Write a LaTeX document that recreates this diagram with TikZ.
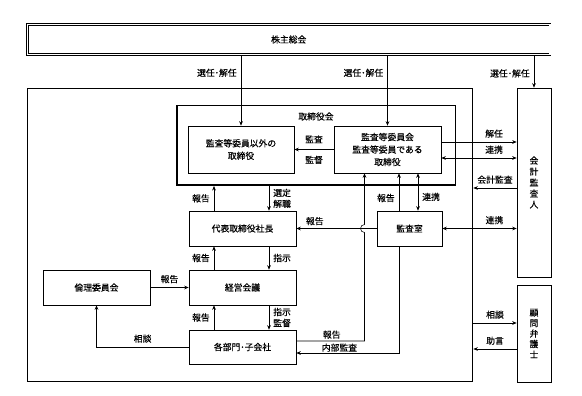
\documentclass[tikz,border=0pt]{standalone}
\usepackage{fontspec}
\setmainfont{Noto Sans CJK JP}[FakeBold=0.3]
\usetikzlibrary{arrows.meta}
\begin{document}
\begin{tikzpicture}[x=1pt,y=-1pt,>={Stealth[length=4.5pt,width=3.6pt]},line width=.55pt,
    font=\fontsize{8.8}{12.5}\selectfont,
    box/.style={draw,rectangle,align=center,inner sep=0pt},
    lab/.style={inner sep=4pt},
    tate/.style={font=\fontsize{8.8}{11}\selectfont}]
\useasboundingbox (0,0) rectangle (582,396);
% 株主総会と外枠
\node[box,double,double distance=1.1pt,line width=.8pt,minimum width=522.5,minimum height=30.5] (kabu) at (288.75,39.5) {株主総会};
\node[box,line width=1.2pt,minimum width=445.4,minimum height=292.2] (soshiki) at (250,235) {};
\node[box,line width=1.5pt,minimum width=278.5,minimum height=79.5] (tb) at (316,145.5) {};
\node at ([yshift=-11.5pt]tb.north) {取締役会};
% 箱
\node[box,minimum width=106,minimum height=47] (ina) at (241,149.5) {監査等委員以外の\\取締役};
\node[box,minimum width=107,minimum height=47] (kan) at (387.5,149.5) {監査等委員会\\監査等委員である\\取締役};
\node[box,minimum width=107,minimum height=35] (dai) at (242.5,228.5) {代表取締役社長};
\node[box,minimum width=107,minimum height=35] (kei) at (242.5,287.5) {経営会議};
\node[box,minimum width=107,minimum height=35] (rin) at (96.5,287.5) {倫理委員会};
\node[box,minimum width=107,minimum height=34] (kaku) at (242.5,347) {各部門･子会社};
\node[box,minimum width=65,minimum height=35] (kansa) at (409.5,228.5) {監査室};
\node[box,tate,minimum width=34,minimum height=189] (kaikei) at (534,182.5) {会\\計\\監\\査\\人};
\node[box,tate,font=\fontsize{8.8}{10.5}\selectfont,minimum width=34,minimum height=97] (komon) at (534,333.5) {顧\\問\\弁\\護\\士};
% 株主総会から
\draw[->] (kabu.south -| ina.north) -- node[lab,left,pos=.25]{選任･解任} (ina.north);
\draw[->] (kabu.south -| kan.north) -- node[lab,left,pos=.25]{選任･解任} (kan.north);
\draw[->] (kabu.south -| kaikei.north) -- node[lab,left,pos=.56]{選任･解任} (kaikei.north);
% 取締役会の中
\draw[->] (kan.west) -- node[lab,above=2pt]{監査} node[lab,below=2pt]{監督} (ina.east);
% 会計監査人との間
\coordinate (k1) at ([yshift=7.5pt]kan.east);
\coordinate (k2) at ([yshift=-8.5pt]kan.east);
\coordinate (k3) at ([yshift=-5.5pt]kaikei.west);
\draw[->] (k1) -- node[lab,above,pos=.7]{解任} (k1 -| kaikei.west);
\draw[<->] (k2) -- node[lab,above,pos=.7]{連携} (k2 -| kaikei.west);
\draw[->] (k3) -- node[lab,above]{会計監査} (k3 -| soshiki.east);
\draw[<->] (kansa.east) -- node[lab,above,pos=.7]{連携} (kansa.east -| kaikei.west);
% 監査室
\coordinate (s1) at ([xshift=-10.5pt]kansa.north);
\coordinate (s2) at ([xshift=8.5pt]kansa.north);
\draw[->] (s1) -- node[lab,left,pos=.34]{報告} (s1 |- kan.south);
\draw[<->] (s2) -- node[lab,right,pos=.37]{連携} (s2 |- kan.south);
\draw[->] (kansa.west) -- node[lab,above,pos=.77,inner sep=3pt]{報告} (dai.east);
\draw[->] ([xshift=-10.5pt]kansa.south) |- node[lab,above,pos=.79,inner sep=1pt]{内部監査} ([yshift=-6pt]kaku.east);
% 各部門から監査等委員会へ（跳び越し）
\coordinate (r) at ([xshift=-23pt]kan.south);
\coordinate (h) at (dai.east -| r);
\draw[->] ([yshift=6pt]kaku.east) -| node[lab,above,pos=.26,inner sep=2pt]{報告} ([yshift=-4pt]h) arc(90:270:4) -- (r);
% 社長から各部門まで
\foreach \u/\d/\t in {tb/dai/{選定\\解職},dai/kei/指示,kei/kaku/{指示\\監督}}{
  \coordinate (\d-l) at ([xshift=-28.5pt]\d.north);
  \coordinate (\d-r) at ([xshift=26.5pt]\d.north);
  \draw[->] (\d-l) -- node[lab,left]{報告} (\d-l |- \u.south);
  \draw[->] (\d-r |- \u.south) -- node[lab,right,align=left,tate]{\t} (\d-r);
}
\draw[->] (rin.east) -- node[lab,above]{報告} (kei.west);
\draw[->] (kaku.west) -| node[lab,above,pos=.25]{相談} (rin.south);
% 顧問弁護士
\coordinate (b1) at ([yshift=10.5pt]komon.west);
\coordinate (b2) at ([yshift=-15.5pt]komon.west);
\draw[->] (b1 -| soshiki.east) -- node[lab,above]{相談} (b1);
\draw[->] (b2) -- node[lab,above]{助言} (b2 -| soshiki.east);
\end{tikzpicture}
\end{document}
